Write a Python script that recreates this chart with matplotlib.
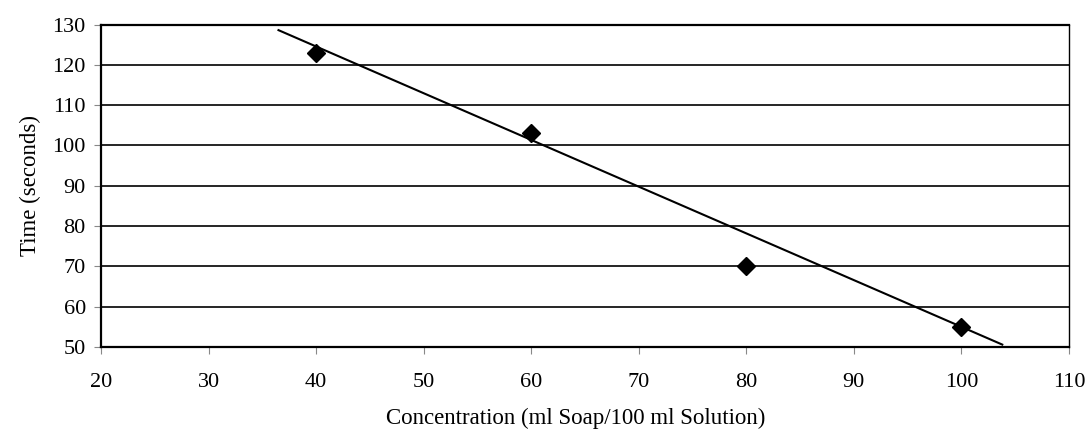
import matplotlib
matplotlib.use("Agg")
import matplotlib.pyplot as plt

# measured points
conc = [40, 60, 80, 100]
time_s = [123, 103, 70, 55]

# trend line as drawn in the original
trend_x = [36.5, 103.8]
trend_y = [128.6, 50.6]

x_ticks = [20, 30, 40, 50, 60, 70, 80, 90, 100, 110]
y_ticks = [50, 60, 70, 80, 90, 100, 110, 120, 130]

plt.rcParams["font.family"] = ["Liberation Serif", "DejaVu Serif"]

fig = plt.figure(figsize=(10.9, 4.36), dpi=100)
ax = fig.add_axes([0.0927, 0.2041, 0.888, 0.7397])

for yv in y_ticks:
    ax.axhline(yv, color="black", lw=1.2, zorder=1)

ax.plot(trend_x, trend_y, color="black", lw=1.5, zorder=2)
ax.plot(conc, time_s, ls="none", marker="D", ms=9.5, color="black", zorder=3)

ax.set_xlim(20, 110)
ax.set_ylim(50, 130)
ax.set_xticks(x_ticks)
ax.set_yticks(y_ticks)
ax.tick_params(axis="both", labelsize=16, direction="out", length=5, width=0.8, color="#888888")
ax.tick_params(axis="x", pad=14)
ax.tick_params(axis="y", pad=6)

for side in ["left", "bottom", "top"]:
    ax.spines[side].set_linewidth(1.6)
ax.spines["right"].set_linewidth(1.0)

ax.set_xlabel("Concentration (ml Soap/100 ml Solution)", fontsize=16.5, labelpad=14)
ax.set_ylabel("Time (seconds)", fontsize=16.5, labelpad=8)
ax.xaxis.set_label_coords(0.49, -0.19)

fig.savefig("out.png", dpi=100)
